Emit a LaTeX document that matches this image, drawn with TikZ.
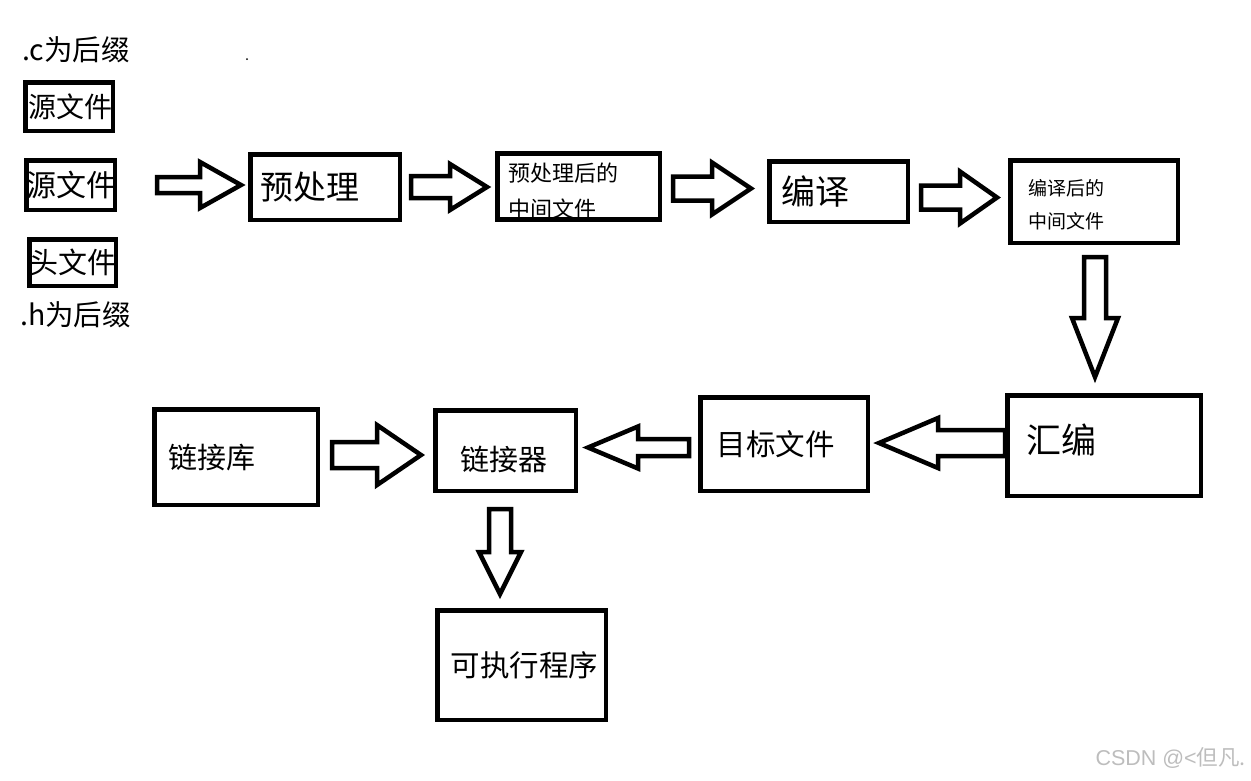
\documentclass[tikz,border=0pt]{standalone}
\usepackage{fontspec}
\setmainfont{Noto Sans CJK SC}
\newfontfamily\latinfont{Liberation Sans}
\usetikzlibrary{calc}
\definecolor{markgray}{HTML}{BDBDBD}
\newcommand{\fsz}[2]{\fontsize{#1pt}{#2pt}\selectfont}
% block arrows: start, tip, shaft half, head half, head length
\newcommand{\rightblock}[5]{%
  \draw[blockarrow] let \p1=#1, \p2=#2 in
    (\x1,\y1+#3pt) -- (\x2-#5pt,\y1+#3pt) -- (\x2-#5pt,\y1+#4pt) -- (\x2,\y1)
    -- (\x2-#5pt,\y1-#4pt) -- (\x2-#5pt,\y1-#3pt) -- (\x1,\y1-#3pt) -- cycle;}
\newcommand{\leftblock}[5]{%
  \draw[blockarrow] let \p1=#1, \p2=#2 in
    (\x1,\y1+#3pt) -- (\x2+#5pt,\y1+#3pt) -- (\x2+#5pt,\y1+#4pt) -- (\x2,\y1)
    -- (\x2+#5pt,\y1-#4pt) -- (\x2+#5pt,\y1-#3pt) -- (\x1,\y1-#3pt) -- cycle;}
\newcommand{\downblock}[5]{%
  \draw[blockarrow] let \p1=#1, \p2=#2 in
    (\x1+#3pt,\y1) -- (\x1+#3pt,\y2+#5pt) -- (\x1+#4pt,\y2+#5pt) -- (\x1,\y2)
    -- (\x1-#4pt,\y2+#5pt) -- (\x1-#3pt,\y2+#5pt) -- (\x1-#3pt,\y1) -- cycle;}

\begin{document}
\begin{tikzpicture}[
  x=1pt, y=-1pt,
  box/.style={draw, line width=4.5pt, align=left, inner ysep=0pt},
  blockarrow/.style={draw, line width=4.5pt, line join=miter, fill=white},
  plain/.style={inner sep=0pt, anchor=west}
]
\useasboundingbox (0,0) rectangle (1251,780);

\node[plain, font=\fsz{28.5}{34}] (csuf) at (22,50) {.c为后缀};
\node[box, minimum width=87.5pt, minimum height=48.5pt, inner xsep=3pt, text width=81pt, font=\fsz{28}{34}] (srca) at (69,106.5) {源文件};
\node[box, minimum width=88.5pt, minimum height=49.5pt, inner xsep=0.5pt, text width=87.5pt, font=\fsz{30}{36}] (srcb) at (70.5,185) {源文件};
\node[box, minimum width=86.5pt, minimum height=46.5pt, inner xsep=0pt, text width=86.5pt, font=\fsz{29}{35}] (hdr) at (72.5,262.5) {头文件};
\node[plain, font=\fsz{28.5}{34}] (hsuf) at (20,315) {.h为后缀};
\fill (247,59) circle (1pt);

\node[box, minimum width=149.5pt, minimum height=65.5pt, inner xsep=10.5pt, text width=128.5pt, font=\fsz{33}{40}] (pre) at (325,187) {预处理};
\node[box, minimum width=162.5pt, minimum height=62.5pt, inner xsep=11.5pt, text width=139.5pt, text height=28.5pt, font=\fsz{22}{36}] (mida) at (578.5,186.5) {预处理后的\\中间文件};
\node[box, minimum width=138.5pt, minimum height=60.5pt, inner xsep=12.5pt, text width=113.5pt, font=\fsz{34}{40}] (comp) at (838.5,191.5) {编译};
\node[box, minimum width=167.5pt, minimum height=82.5pt, inner xsep=18.5pt, text width=130.5pt, text height=22pt, font=\fsz{19}{33}] (midb) at (1094,201.5) {编译后的\\中间文件};

\node[box, minimum width=193.5pt, minimum height=100.5pt, inner xsep=19.5pt, text width=154.5pt, text depth=13.5pt, font=\fsz{35}{42}] (asm) at (1104,445.5) {汇编};
\node[box, minimum width=167.5pt, minimum height=93.5pt, inner xsep=16.5pt, text width=134.5pt, font=\fsz{29.5}{35}] (obj) at (784,444) {目标文件};
\node[box, minimum width=140.5pt, minimum height=80.5pt, inner xsep=25.5pt, text width=89.5pt, text height=43pt, font=\fsz{29}{35}] (linker) at (505.5,450.5) {链接器};
\node[box, minimum width=163.5pt, minimum height=95.5pt, inner xsep=14.5pt, text width=134.5pt, font=\fsz{29}{35}] (lib) at (236,457) {链接库};
\node[box, minimum width=168.5pt, minimum height=109.5pt, inner xsep=13.5pt, text width=141.5pt, font=\fsz{29.5}{35}] (exe) at (521.5,665) {可执行程序};

\rightblock{($(srcb.east)+(40,0)$)}{($(pre.west)+(-7,0)$)}{8}{23}{41}
\rightblock{($(pre.east)+(9,0)$)}{($(mida.west)+(-8,0)$)}{11}{23}{37}
\rightblock{($(mida.east)+(11,2)$)}{($(comp.west)+(-16,0)$)}{12}{26}{39}
\rightblock{($(comp.east)+(11,6)$)}{($(midb.west)+(-11,0)$)}{12}{26}{37}
\downblock{($(midb.south)+(1,12)$)}{($(asm.north)+(0,-16)$)}{11}{23}{59}
\leftblock{($(asm.west)+(0,-2.5)$)}{($(obj.east)+(9,0)$)}{13}{25}{59}
\leftblock{($(obj.west)+(-9,3.5)$)}{($(linker.east)+(10,0)$)}{8.5}{21}{50}
\rightblock{($(lib.east)+(12,-2)$)}{($(linker.west)+(-12,0)$)}{13}{30}{44}
\downblock{($(linker.south)+(-5.5,16)$)}{($(exe.north)+(0,-14)$)}{11}{21}{42}

\node[anchor=east, inner sep=0pt, text=markgray, font=\fsz{21.5}{26}] (mark) at (1246,758) {{\latinfont CSDN @<}但凡.};
\end{tikzpicture}
\end{document}
